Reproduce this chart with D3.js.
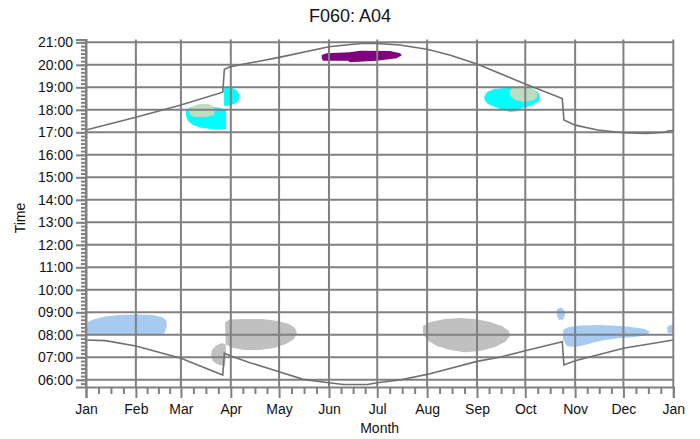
<!DOCTYPE html>
<html><head><meta charset="utf-8">
<script src="https://cdn.jsdelivr.net/npm/d3@7/dist/d3.min.js"></script>
<style>
body{margin:0;background:#fff}
svg{display:block;font-family:"Liberation Sans",Arial,sans-serif}
</style>
</head><body>
<svg id="chart" width="700" height="439"></svg>
<script>
// ---------------- data ----------------
const chartTitle = "F060: A04";
const xTitle = "Month";
const yTitle = "Time";
const yearStart = "2023-01-01";
const yearEnd = "2024-01-01";
const hourTicks = [6,7,8,9,10,11,12,13,14,15,16,17,18,19,20,21];

// sunset line (top)
const sunsetDates = ["2023-01-01","2023-02-01","2023-03-01","2023-03-27","2023-03-28","2023-04-01","2023-05-01","2023-06-01","2023-06-21","2023-07-01","2023-07-15","2023-08-01","2023-08-15","2023-09-01","2023-10-01","2023-10-24","2023-10-25","2023-11-01","2023-11-15","2023-12-01","2023-12-15","2023-12-27","2023-12-29","2024-01-01"];
const sunsetHours = [17.10,17.67,18.21,18.78,19.80,19.92,20.33,20.80,20.95,20.95,20.88,20.69,20.44,20.04,19.15,18.50,17.55,17.32,17.10,16.98,16.95,17.00,17.07,17.07];

// sunrise line (bottom)
const sunriseDates = ["2023-01-01","2023-01-13","2023-02-01","2023-03-01","2023-03-27","2023-03-28","2023-04-01","2023-04-13","2023-05-01","2023-05-16","2023-06-01","2023-06-10","2023-06-25","2023-07-01","2023-07-15","2023-08-01","2023-09-01","2023-09-15","2023-10-01","2023-10-24","2023-10-25","2023-11-01","2023-12-01","2024-01-01"];
const sunriseHours = [7.77,7.74,7.50,6.96,6.21,7.18,7.06,6.76,6.36,6.02,5.87,5.79,5.79,5.87,5.99,6.24,6.82,7.00,7.29,7.69,6.66,6.85,7.40,7.77];

// shadow regions: outlines as [day of year, hour]
const blueJanFeb = [[1.2,8.57],[5.6,8.70],[11.8,8.81],[21.1,8.88],[31.1,8.90],[41.0,8.88],[47.2,8.79],[49.7,8.66],[50.3,8.39],[49.1,8.12],[47.2,7.99],[1.2,7.99],[0.6,8.21]];
const greyAprMay = [[86.4,8.57],[89.5,8.68],[98.8,8.70],[109.4,8.70],[119.3,8.61],[126.2,8.48],[129.9,8.30],[131.1,8.08],[129.3,7.81],[124.3,7.59],[116.8,7.41],[108.1,7.32],[98.8,7.32],[91.4,7.41],[87.6,7.55],[84.5,7.64],[80.8,7.52],[78.3,7.32],[77.7,7.06],[78.9,6.83],[82.0,6.68],[86.4,6.61],[87.0,7.20]];
const greyAugSep = [[209.4,8.39],[213.8,8.57],[223.1,8.70],[232.4,8.75],[241.8,8.70],[251.1,8.57],[258.5,8.39],[262.9,8.17],[263.5,7.95],[260.4,7.68],[254.2,7.46],[244.9,7.28],[235.5,7.23],[226.2,7.32],[218.1,7.50],[211.9,7.77],[209.4,8.08]];
const blueOctSmall = [[292.7,9.14],[295.2,9.21],[297.1,9.10],[297.7,8.88],[296.5,8.68],[294.0,8.66],[292.7,8.84]];
const blueNovDec = [[296.5,8.21],[299.6,8.34],[307.0,8.41],[319.5,8.44],[331.9,8.39],[341.2,8.32],[347.4,8.26],[350.5,8.12],[348.0,7.99],[341.2,7.90],[331.9,7.86],[322.6,7.77],[316.4,7.68],[310.1,7.55],[303.9,7.46],[298.9,7.50],[296.5,7.77]];
const blueDecEnd = [[361.1,8.35],[363.0,8.44],[364.9,8.44],[364.9,8.08],[361.7,8.08]];
const cyanMarLow = [[62.2,17.95],[64.6,18.10],[70.9,18.17],[78.3,18.15],[84.5,18.06],[87.0,17.99],[87.0,17.15],[78.3,17.15],[72.1,17.19],[66.5,17.32],[63.4,17.50],[62.2,17.72]];
const greenMar = [[64.0,17.99],[66.5,18.17],[70.9,18.26],[75.8,18.26],[78.9,18.17],[80.2,17.99],[79.6,17.77],[74.6,17.68],[67.7,17.68],[64.6,17.77]];
const cyanMarHigh = [[85.8,19.01],[89.5,19.01],[93.2,18.90],[95.1,18.70],[95.1,18.48],[93.2,18.30],[89.5,18.19],[85.8,18.17]];
const cyanSepOct = [[247.4,18.57],[249.2,18.79],[253.6,18.92],[260.4,18.97],[269.7,18.99],[277.2,18.95],[280.9,18.79],[282.2,18.57],[280.9,18.35],[276.0,18.17],[271.0,18.08],[268.5,17.95],[263.5,17.90],[259.2,17.99],[254.2,18.12],[249.8,18.26],[248.0,18.39]];
const greenSepOct = [[262.9,18.84],[265.4,18.97],[269.7,19.01],[276.0,18.97],[279.7,18.84],[280.9,18.61],[278.4,18.44],[272.8,18.35],[266.6,18.44],[263.5,18.61]];
const purpleJun = [[146.5,20.44],[149.6,20.51],[164.1,20.56],[170.3,20.63],[188.9,20.61],[195.2,20.51],[196.2,20.42],[193.1,20.29],[180.7,20.18],[164.1,20.11],[162.8,20.18],[147.3,20.18],[146.5,20.29]];

const regions = [blueJanFeb, greyAprMay, greyAugSep, blueOctSmall, blueNovDec, blueDecEnd, cyanMarLow, greenMar, cyanMarHigh, cyanSepOct, greenSepOct, purpleJun];
const regionGroups = ["blue","grey","grey","blue","blue","blue","cyan","green","cyan","cyan","green","purple"];

// ---------------- drawing ----------------
const colours = {blue:"#a6caf0", grey:"#c0c0c0", cyan:"#00ffff", green:"#c0dcc0", purple:"#800080"};
const gridCol = "#808080";
const svg = d3.select("#chart");
const parse = d3.utcParse("%Y-%m-%d");
const t0 = parse(yearStart), t1 = parse(yearEnd);
const x = d3.scaleUtc().domain([t0, t1]).range([86, 673.3]);
const y = d3.scaleLinear().domain([5.68, 21.13]).range([387, 39.4]);
const dayToDate = d => new Date(+t0 + d * 864e5);

// regions
const area = d3.line().x(p => x(dayToDate(p[0]))).y(p => y(p[1])).curve(d3.curveLinearClosed);
svg.append("g").selectAll("path").data(regions).join("path")
  .attr("d", area)
  .attr("fill", (d, i) => colours[regionGroups[i]])
  .attr("stroke", "none");

// grid
const months = d3.utcMonth.range(t0, d3.utcDay.offset(t1, 1));
const grid = svg.append("g").attr("stroke", gridCol).attr("stroke-width", 2);
grid.selectAll("line.h").data(hourTicks).join("line")
  .attr("x1", x(t0)).attr("x2", x(t1))
  .attr("y1", d => y(d)).attr("y2", d => y(d));
grid.selectAll("line.v").data(months).join("line")
  .attr("x1", d => x(d)).attr("x2", d => x(d))
  .attr("y1", y.range()[1]).attr("y2", y.range()[0]);

// curves
const line = d3.line().x(d => x(d[0])).y(d => y(d[1]));
const sunset = sunsetDates.map((d, i) => [parse(d), sunsetHours[i]]);
const sunrise = sunriseDates.map((d, i) => [parse(d), sunriseHours[i]]);
svg.append("g").selectAll("path").data([sunset, sunrise]).join("path")
  .attr("d", line).attr("fill", "none")
  .attr("stroke", "#707070").attr("stroke-width", 1.6);

// axes
const fmtH = h => String(h).padStart(2, "0") + ":00";
const yAxis = svg.append("g").attr("transform", "translate(86,0)")
  .call(d3.axisLeft(y).tickValues(hourTicks).tickFormat(fmtH).tickSize(10).tickPadding(3));
const minorY = d3.range(Math.ceil(5.68 * 6), Math.floor(21.13 * 6) + 1).map(v => v / 6);
svg.append("g").attr("transform", "translate(86,0)")
  .call(d3.axisLeft(y).tickValues(minorY).tickFormat("").tickSize(5))
  .call(g => g.select(".domain").remove());

const fmtM = d3.utcFormat("%b");
svg.append("g").attr("transform", "translate(0,387)")
  .call(d3.axisBottom(x).tickValues(months).tickFormat(fmtM).tickSize(11).tickPadding(6));
const minorX = [];
months.slice(0, -1).forEach(m => {
  const n = d3.utcMonth.offset(m, 1);
  for (let k = 1; k < 4; k++) minorX.push(new Date(+m + (n - m) * k / 4));
});
svg.append("g").attr("transform", "translate(0,387)")
  .call(d3.axisBottom(x).tickValues(minorX).tickFormat("").tickSize(7))
  .call(g => g.select(".domain").remove());

svg.selectAll(".domain, .tick line").attr("stroke", gridCol).attr("stroke-width", 2);
svg.selectAll(".tick text").attr("fill", "#111").attr("font-size", 14)
  .attr("font-family", '"Liberation Sans",Arial,sans-serif');

// titles
svg.append("text").attr("x", 350).attr("y", 22).attr("text-anchor", "middle")
  .attr("font-size", 18).attr("fill", "#111").text(chartTitle);
svg.append("text").attr("x", (x.range()[0] + x.range()[1]) / 2).attr("y", 433)
  .attr("text-anchor", "middle").attr("font-size", 14).attr("fill", "#111").text(xTitle);
svg.append("text").attr("transform", "translate(25,218) rotate(-90)")
  .attr("text-anchor", "middle").attr("font-size", 14).attr("fill", "#111").text(yTitle);
</script>
</body></html>
